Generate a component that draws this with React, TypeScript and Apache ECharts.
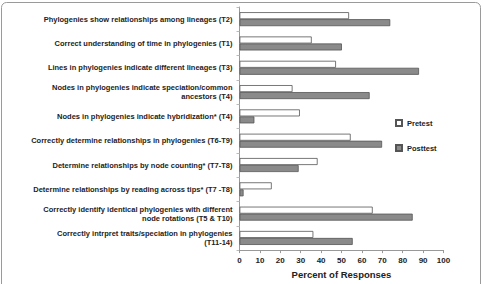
import React, { useEffect, useRef } from "react";
import * as echarts from "echarts";

const categories = [
  "Phylogenies show relationships among lineages (T2)",
  "Correct understanding of time in phylogenies (T1)",
  "Lines in phylogenies indicate different lineages (T3)",
  "Nodes in phylogenies indicate speciation/common\nancestors (T4)",
  "Nodes in phylogenies indicate hybridization* (T4)",
  "Correctly determine relationships in phylogenies (T6-T9)",
  "Determine relationships by node counting* (T7-T8)",
  "Determine relationships by reading across tips* (T7 -T8)",
  "Correctly identify identical phylogenies with different\nnode rotations (T5 & T10)",
  "Correctly intrpret traits/speciation in phylogenies\n(T11-14)",
];
const pretest = [53.7, 35.4, 47.3, 26, 29.6, 54.5, 38.3, 15.8, 65.3, 36.2];
const posttest = [73.9, 50.2, 88, 63.8, 7.3, 69.9, 29, 2, 84.9, 55.5];
const xTicks = { min: 0, max: 100, interval: 10 };

const FONT = "Liberation Sans, Arial, sans-serif";

export default function App() {
  const ref = useRef<HTMLDivElement>(null);
  useEffect(() => {
    if (!ref.current) return;
    const chart = echarts.init(ref.current, null, { renderer: "svg" });
    chart.setOption({
      animation: false,
      backgroundColor: "#fff",
      graphic: [
        {
          type: "rect",
          shape: { x: 1.5, y: 2.5, width: 479, height: 300, r: 5 },
          style: { fill: "none", stroke: "#9a9a9a", lineWidth: 1 },
          silent: true,
          z: -1,
        },
      ],
      legend: {
        orient: "vertical",
        left: 390,
        top: 114,
        itemWidth: 6,
        itemHeight: 6,
        itemGap: 17,
        icon: "rect",
        textStyle: { fontFamily: FONT, fontWeight: "bold", fontSize: 7.5, color: "#222" },
        data: ["Pretest", "Posttest"],
      },
      grid: { left: 239.5, right: 39.5, top: 7, bottom: 27, containLabel: false },
      xAxis: {
        type: "value",
        min: xTicks.min,
        max: xTicks.max,
        interval: xTicks.interval,
        splitLine: { show: false },
        axisLine: { show: true, lineStyle: { color: "#999" } },
        axisTick: { show: true, length: 3, lineStyle: { color: "#999" } },
        axisLabel: { fontFamily: FONT, fontWeight: "bold", fontSize: 8, color: "#222", margin: 6 },
        name: "Percent of Responses",
        nameLocation: "middle",
        nameGap: 17,
        nameTextStyle: { fontFamily: FONT, fontWeight: "bold", fontSize: 9.5, color: "#222" },
      },
      yAxis: {
        type: "category",
        data: categories,
        inverse: true,
        axisLine: { show: true, lineStyle: { color: "#999" } },
        axisTick: { show: true, length: 3, lineStyle: { color: "#bbb" } },
        axisLabel: {
          fontFamily: FONT,
          fontWeight: "bold",
          fontSize: 7.5,
          color: "#222",
          margin: 7,
          lineHeight: 9,
          align: "right",
        },
      },
      series: [
        {
          name: "Pretest",
          type: "bar",
          data: pretest,
          barWidth: 7,
          barGap: "0%",
          itemStyle: { color: "#fff", borderColor: "#555", borderWidth: 0.8 },
        },
        {
          name: "Posttest",
          type: "bar",
          data: posttest,
          barWidth: 7,
          barGap: "0%",
          itemStyle: { color: "#8a8a8a", borderColor: "#555", borderWidth: 0.8 },
        },
      ],
    });
    return () => chart.dispose();
  }, []);
  return <div ref={ref} style={{ width: 483, height: 284, position: "absolute", left: 0, top: 0 }} />;
}
